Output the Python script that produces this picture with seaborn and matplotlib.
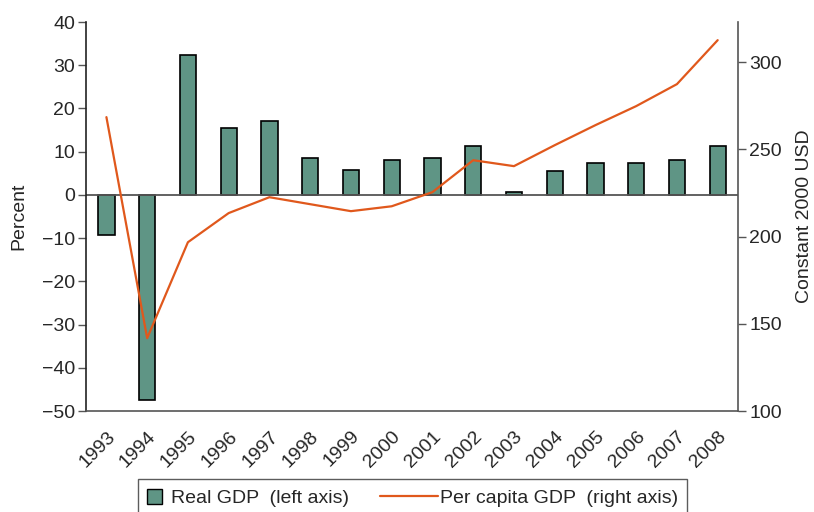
import matplotlib
matplotlib.use('Agg')

import numpy as np
import pandas as pd
import matplotlib.pyplot as plt
import seaborn as sns
from matplotlib.patches import Patch, Rectangle
from matplotlib.lines import Line2D
from matplotlib.legend_handler import HandlerPatch, HandlerLine2D

# data
years = [str(y) for y in range(1993, 2009)]
real_gdp = [-9.3, -47.4, 32.4, 15.5, 17.1, 8.6, 5.8, 8.1, 8.6, 11.3, 0.7, 5.6, 7.4, 7.4, 8.1, 11.3]
per_capita = [268.5, 141.8, 196.8, 213.5, 222.6, 218.6, 214.6, 217.4, 225.5, 243.8, 240.4, 252.4,
              263.9, 274.8, 287.4, 312.6]

df = pd.DataFrame({"year": years, "real_gdp": real_gdp, "per_capita": per_capita})

sns.set_style("white")
plt.rcParams['font.family'] = ['Liberation Sans', 'DejaVu Sans']
fs = 14

bar_col = "#5f9585"
line_col = "#e0581c"
axis_col = "#555555"

fig = plt.figure(figsize=(8.14, 5.12), dpi=100)
ax = fig.add_axes([0.1057, 0.197, 0.801, 0.760])

sns.barplot(data=df, x="year", y="real_gdp", ax=ax, color=bar_col, width=0.4,
            edgecolor="black", linewidth=1.2, saturation=1)
ax.axhline(0, color=axis_col, lw=1.3, zorder=1)

ax2 = ax.twinx()
sns.lineplot(data=df, x="year", y="per_capita", ax=ax2, color=line_col, lw=1.6, sort=False)

n = len(years)
ax.set_xlim(-0.5, n - 0.5)
ax.set_ylim(-50, 40)
ax.set_yticks(np.arange(-50, 41, 10))
ax.set_yticklabels([str(v).replace('-', '\u2212') for v in range(-50, 41, 10)])
ax2.set_ylim(100, 323)
ax2.set_yticks([100, 150, 200, 250, 300])

# ticks at category boundaries, labels at centres
ax.set_xticks(np.arange(-0.5, n, 1.0))
ax.set_xticklabels([])
ax.set_xticks(np.arange(n), minor=True)
ax.set_xticklabels(years, minor=True, rotation=45, ha='right', rotation_mode='anchor')
ax.tick_params(axis='x', which='minor', length=0, pad=12, labelsize=fs)
ax.tick_params(axis='x', which='major', length=6, width=1.2, color=axis_col, direction='out')
ax.tick_params(axis='y', length=6, width=1.0, color=axis_col, direction='out', labelsize=fs, pad=2)
ax2.tick_params(axis='y', length=6, width=1.0, color=axis_col, direction='out', labelsize=fs, pad=2)

for a in (ax, ax2):
    a.spines['top'].set_visible(False)
    a.set_xlabel("")
ax.spines['left'].set_color("#222222")
ax.spines['bottom'].set_color(axis_col)
ax.spines['right'].set_visible(False)
ax2.spines['left'].set_visible(False)
ax2.spines['bottom'].set_visible(False)
ax2.spines['right'].set_color(axis_col)
for s in ('left', 'bottom'):
    ax.spines[s].set_linewidth(1.2)
ax2.spines['right'].set_linewidth(1.2)

ax.set_ylabel("Percent", fontsize=fs, labelpad=10)
ax2.set_ylabel("Constant 2000 USD", fontsize=fs, labelpad=10)


class SquareHandler(HandlerPatch):
    def create_artists(self, legend, orig_handle, xdescent, ydescent, width, height, fontsize, trans):
        s = width
        r = Rectangle((-xdescent, -ydescent + (height - s) / 2), s, s,
                      facecolor=orig_handle.get_facecolor(), edgecolor="black", lw=1.0,
                      transform=trans)
        return [r]


class LongLineHandler(HandlerLine2D):
    # the line reaches back into the column gap, as in the reference
    def create_artists(self, legend, orig_handle, xdescent, ydescent, width, height, fontsize, trans):
        x1 = -xdescent + width + 0.35 * fontsize
        x0 = x1 - 2.95 * fontsize
        y = -ydescent + height / 2
        ln = Line2D([x0, x1], [y, y], color=orig_handle.get_color(),
                    lw=orig_handle.get_linewidth(), transform=trans)
        return [ln]


handles = [Patch(facecolor=bar_col, edgecolor="black", lw=1.0),
           Line2D([0], [0], color=line_col, lw=1.6)]
leg = fig.legend(handles, ["Real GDP  (left axis)", "Per capita GDP  (right axis)"],
                 handler_map={Patch: SquareHandler(), Line2D: LongLineHandler()},
                 loc='upper center', bbox_to_anchor=(0.5068, 0.0645), ncol=2,
                 frameon=True, fancybox=False, edgecolor="#333333", fontsize=fs,
                 handlelength=0.78, handleheight=1.0, columnspacing=3.4, handletextpad=0.5,
                 borderpad=0.45, borderaxespad=0)
leg.get_frame().set_linewidth(1.0)

fig.savefig("out.png", dpi=100)
